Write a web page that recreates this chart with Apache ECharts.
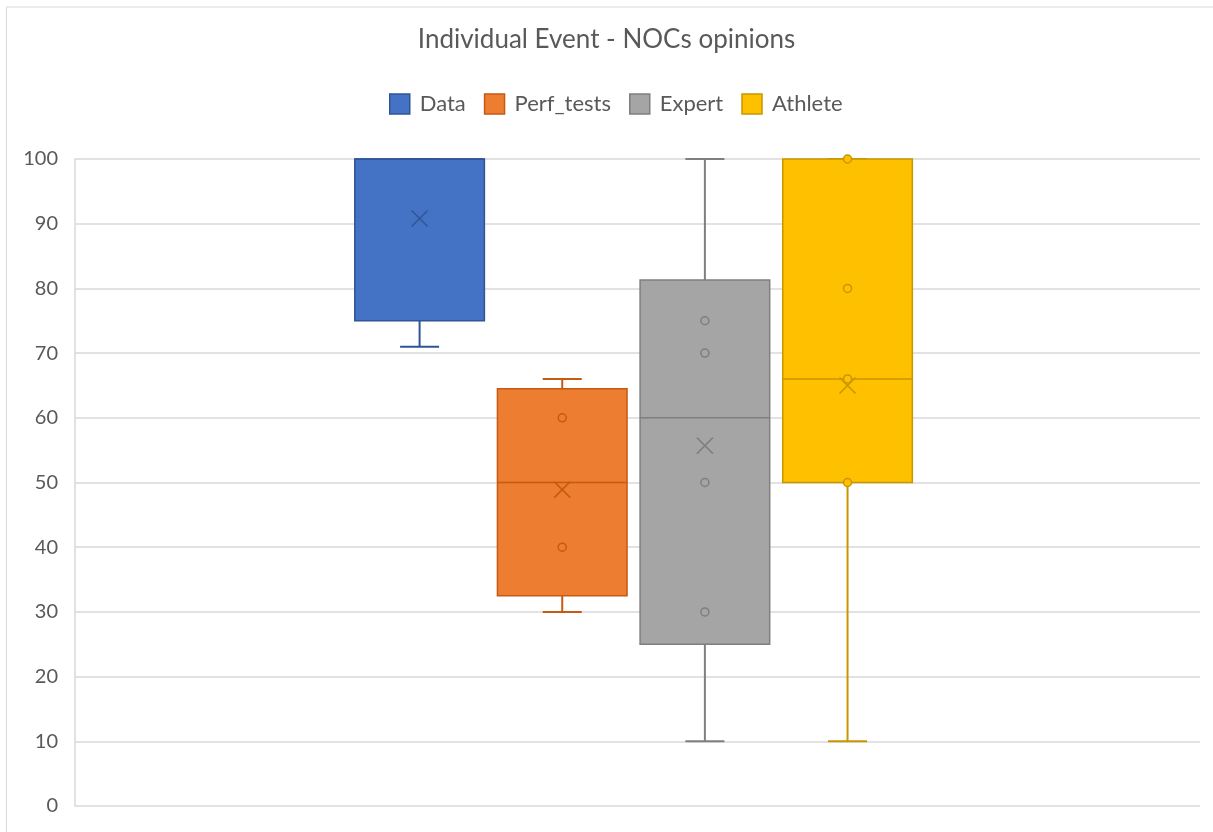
<!DOCTYPE html>
<html>
<head>
<meta charset="utf-8">
<script src="https://cdn.jsdelivr.net/npm/echarts@6/dist/echarts.min.js"></script>
<style>html,body{margin:0;padding:0;background:#fff}#c{width:1213px;height:832px}</style>
</head>
<body>
<div id="c"></div>
<script>
var categories = ['Data', 'Perf_tests', 'Expert', 'Athlete'];
var minVals = [71, 30, 10, 10];
var q1Vals = [75, 32.5, 25, 50];
var medianVals = [100, 50, 60, 66];
var q3Vals = [100, 64.5, 81.3, 100];
var maxVals = [100, 66, 100, 100];
var meanVals = [90.8, 48.9, 55.7, 65];
var innerPoints = [[], [40, 60], [30, 50, 70, 75], [50, 66, 80, 100]];
var yTicks = [0, 10, 20, 30, 40, 50, 60, 70, 80, 90, 100];

var fillColors = ['#4472C4', '#ED7D31', '#A5A5A5', '#FFC000'];
var strokeColors = ['#2F5597', '#C55A11', '#7F7F7F', '#C89600'];

var FONT = 'Lato';

function makeRender(idx) {
  return function (params, api) {
    var bw = api.size([1, 0])[0];
    var base = api.coord([0, 0]);
    var spacing = bw * 0.1268;
    var boxW = bw * 0.1152;
    var cx = base[0] - bw * 0.0035 + (idx - 1.5) * spacing;
    function y(v) { return api.coord([0, v])[1]; }
    var vMin = api.value(1), vQ1 = api.value(2), vMed = api.value(3), vQ3 = api.value(4), vMax = api.value(5), vMean = api.value(6);
    var stroke = strokeColors[idx];
    var fill = fillColors[idx];
    var capHalf = 19.5;
    var children = [];
    children.push({ type: 'line', shape: { x1: cx, y1: y(vQ3), x2: cx, y2: y(vMax) }, style: { stroke: stroke, lineWidth: 2 } });
    children.push({ type: 'line', shape: { x1: cx, y1: y(vQ1), x2: cx, y2: y(vMin) }, style: { stroke: stroke, lineWidth: 2 } });
    children.push({ type: 'line', shape: { x1: cx - capHalf, y1: y(vMax), x2: cx + capHalf, y2: y(vMax) }, style: { stroke: stroke, lineWidth: 2 } });
    children.push({ type: 'line', shape: { x1: cx - capHalf, y1: y(vMin), x2: cx + capHalf, y2: y(vMin) }, style: { stroke: stroke, lineWidth: 2 } });
    var top = y(vQ3), bot = y(vQ1);
    children.push({ type: 'rect', shape: { x: cx - boxW / 2, y: top, width: boxW, height: bot - top }, style: { fill: fill, stroke: stroke, lineWidth: 1.5 } });
    children.push({ type: 'line', shape: { x1: cx - boxW / 2, y1: y(vMed), x2: cx + boxW / 2, y2: y(vMed) }, style: { stroke: stroke, lineWidth: 1.5 } });
    var pts = innerPoints[idx];
    for (var k = 0; k < pts.length; k++) {
      children.push({ type: 'circle', shape: { cx: cx, cy: y(pts[k]), r: 4 }, style: { fill: fill, stroke: stroke, lineWidth: 1.5 } });
    }
    var my = y(vMean), h = 8;
    children.push({ type: 'line', shape: { x1: cx - h, y1: my - h, x2: cx + h, y2: my + h }, style: { stroke: stroke, lineWidth: 1.5 } });
    children.push({ type: 'line', shape: { x1: cx - h, y1: my + h, x2: cx + h, y2: my - h }, style: { stroke: stroke, lineWidth: 1.5 } });
    return { type: 'group', children: children };
  };
}

var series = categories.map(function (name, i) {
  return {
    name: name,
    type: 'custom',
    renderItem: makeRender(i),
    itemStyle: { color: fillColors[i], borderColor: strokeColors[i], borderWidth: 1.5 },
    encode: { x: 0, y: [1, 2, 3, 4, 5, 6] },
    data: [[0, minVals[i], q1Vals[i], medianVals[i], q3Vals[i], maxVals[i], meanVals[i]]],
    silent: true
  };
});

var chart = echarts.init(document.getElementById('c'), null, { renderer: 'canvas' });
chart.setOption({
  animation: false,
  backgroundColor: '#ffffff',
  textStyle: { fontFamily: FONT },
  title: {
    text: 'Individual Event - NOCs opinions',
    left: 'center',
    top: 22,
    textStyle: { fontFamily: FONT, fontSize: 26, fontWeight: 'normal', color: '#595959' }
  },
  legend: {
    data: categories,
    left: 389,
    top: 93,
    padding: 0,
    icon: 'rect',
    itemWidth: 20,
    itemHeight: 20,
    itemGap: 18,
    textStyle: { fontFamily: FONT, fontSize: 22, color: '#595959', padding: [0, 0, 0, 5] },
    itemStyle: { borderWidth: 1.5, borderColor: 'inherit' }
  },
  grid: { left: 75, right: 13, top: 159, bottom: 26, containLabel: false },
  xAxis: {
    type: 'category',
    data: [''],
    axisLine: { show: false },
    axisTick: { show: false },
    axisLabel: { show: false },
    splitLine: { show: false }
  },
  yAxis: {
    type: 'value',
    min: yTicks[0],
    max: yTicks[yTicks.length - 1],
    interval: 10,
    axisLine: { show: true, lineStyle: { color: '#d9d9d9', width: 1.5 } },
    axisTick: { show: false },
    axisLabel: { fontFamily: FONT, fontSize: 20, color: '#595959', margin: 17 },
    splitLine: { show: true, lineStyle: { color: '#d9d9d9', width: 1.5 } }
  },
  graphic: [{
    type: 'rect',
    shape: { x: 6.5, y: 7, width: 1400, height: 1000 },
    style: { fill: 'none', stroke: '#d9d9d9', lineWidth: 1 },
    silent: true,
    z: -10
  }],
  series: series
});
</script>
</body>
</html>
